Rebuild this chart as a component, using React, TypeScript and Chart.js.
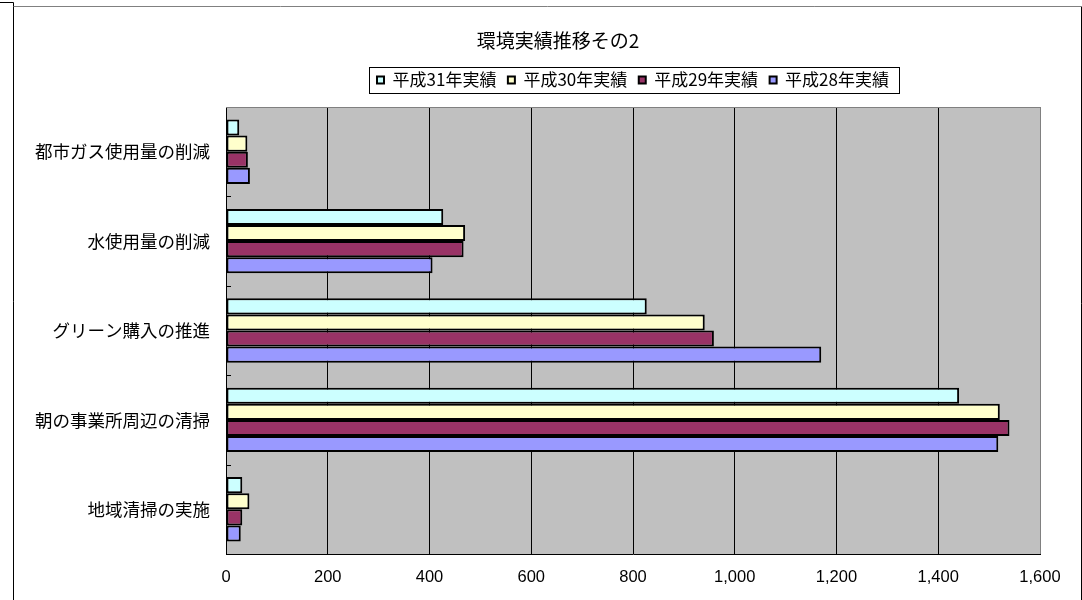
import React, { useEffect, useRef } from 'react';
import { Chart, registerables } from 'chart.js';

Chart.register(...registerables);

const chartTitle = '環境実績推移その2';
const categories = ['都市ガス使用量の削減', '水使用量の削減', 'グリーン購入の推進', '朝の事業所周辺の清掃', '地域清掃の実施'];
const seriesNames = ['平成31年実績', '平成30年実績', '平成29年実績', '平成28年実績'];
const h31 = [26, 427, 827, 1441, 32];
const h30 = [42, 470, 941, 1521, 46];
const h29 = [43, 467, 959, 1540, 32];
const h28 = [47, 406, 1170, 1518, 29];
const seriesColors = ['#CCFFFF', '#FFFFCC', '#993366', '#9999FF'];
const xMin = 0;
const xMax = 1600;
const xStep = 200;

const TITLE_CENTER_X = 558;
const CJK = '"Noto Sans CJK JP", "Noto Sans", sans-serif';
const LAT = '"Liberation Sans", Arial, sans-serif';

const decor = {
  id: 'decor',
  afterLayout(chart: any) {
    const tb = chart.titleBlock;
    if (tb) {
      tb.left = 0;
      tb.right = TITLE_CENTER_X * 2;
      tb.width = tb.right - tb.left;
    }
  },
  beforeDraw(chart: any) {
    const { ctx, chartArea: a, width, height } = chart;
    ctx.save();
    ctx.fillStyle = '#ffffff';
    ctx.fillRect(0, 0, width, height);
    ctx.fillStyle = '#C0C0C0';
    ctx.fillRect(a.left, a.top, a.right - a.left, a.bottom - a.top);
    ctx.lineWidth = 1;
    ctx.strokeStyle = '#000000';
    ctx.beginPath();
    ctx.moveTo(0, 2.5);
    ctx.lineTo(13.5, 2.5);
    ctx.lineTo(13.5, height);
    ctx.stroke();
    ctx.beginPath();
    ctx.moveTo(width - 0.5, 6.5);
    ctx.lineTo(width - 0.5, height);
    ctx.stroke();
    ctx.strokeStyle = '#808080';
    ctx.beginPath();
    ctx.moveTo(13.5, 6.5);
    ctx.lineTo(width - 1, 6.5);
    ctx.stroke();
    ctx.restore();
  },
  afterDraw(chart: any) {
    const { ctx, chartArea: a } = chart;
    ctx.save();
    ctx.strokeStyle = '#808080';
    ctx.lineWidth = 1;
    ctx.beginPath();
    ctx.moveTo(a.left, Math.round(a.top) + 0.5);
    ctx.lineTo(a.right, Math.round(a.top) + 0.5);
    ctx.stroke();
    const ys = chart.scales.y;
    ctx.strokeStyle = '#000000';
    for (let i = 1; i < categories.length; i++) {
      const y = Math.round((ys.getPixelForTick(i - 1) + ys.getPixelForTick(i)) / 2) + 0.5;
      ctx.beginPath();
      ctx.moveTo(a.left, y);
      ctx.lineTo(a.left + 5, y);
      ctx.stroke();
    }
    const lg = chart.legend;
    if (lg && lg.legendHitBoxes && lg.legendHitBoxes.length) {
      const hb = lg.legendHitBoxes;
      let l = Infinity, r = -Infinity, t = Infinity, b = -Infinity;
      hb.forEach((h: any) => {
        l = Math.min(l, h.left);
        r = Math.max(r, h.left + h.width);
        t = Math.min(t, h.top);
        b = Math.max(b, h.top + h.height);
      });
      const cy = (t + b) / 2;
      ctx.strokeStyle = '#000000';
      ctx.lineWidth = 1;
      ctx.strokeRect(Math.round(l - 8) + 0.5, Math.round(cy - 13) + 0.5, Math.round(r - l + 18), 26);
    }
    ctx.restore();
  },
};

export default function App() {
  const ref = useRef<HTMLCanvasElement | null>(null);

  useEffect(() => {
    if (!ref.current) return;
    const datasets = [h31, h30, h29, h28].map((data, i) => ({
      label: seriesNames[i],
      data,
      backgroundColor: seriesColors[i],
      borderColor: '#000000',
      borderWidth: 2,
      borderSkipped: false,
      categoryPercentage: 0.72,
      barPercentage: 1.0,
    }));
    const chart = new Chart(ref.current, {
      type: 'bar',
      data: { labels: categories, datasets },
      plugins: [decor],
      options: {
        indexAxis: 'y',
        animation: false,
        responsive: false,
        maintainAspectRatio: false,
        layout: { padding: { left: 0, right: 42, top: 0, bottom: 0 } },
        plugins: {
          title: {
            display: true,
            text: chartTitle,
            color: '#000000',
            font: { family: CJK, size: 19, weight: 'normal' },
            padding: { top: 29.6, bottom: 7.6 },
          },
          subtitle: {
            display: true,
            text: ' ',
            weight: 500,
            font: { size: 1 },
            padding: { top: 0, bottom: 7.3 },
          },
          legend: {
            display: true,
            position: 'top',
            fullSize: false,
            labels: {
              color: '#000000',
              font: { family: CJK, size: 17 },
              boxWidth: 7,
              boxHeight: 7,
              padding: 11.5,
            },
          },
          tooltip: { enabled: false },
        },
        scales: {
          x: {
            type: 'linear',
            min: xMin,
            max: xMax,
            ticks: {
              stepSize: xStep,
              color: '#000000',
              font: { family: LAT, size: 16.5 },
              padding: 14,
            },
            grid: {
              color: (c: any) => (c.tick && c.tick.value === xMax ? '#808080' : '#000000'),
              lineWidth: 1,
              drawTicks: false,
            },
            border: { display: true, color: '#000000', width: 1 },
            afterFit: (s: any) => { s.height = 46; },
          },
          y: {
            type: 'category',
            ticks: {
              color: '#000000',
              font: { family: CJK, size: 17.5 },
              padding: 16,
            },
            grid: { display: false, drawTicks: false },
            border: { display: true, color: '#000000', width: 1 },
            afterFit: (s: any) => { s.width = 226; },
          },
        },
      } as any,
    });
    return () => chart.destroy();
  }, []);

  return (
    <div style={{ position: 'absolute', left: 0, top: 0, width: 1082, height: 600, background: '#fff' }}>
      <canvas ref={ref} width={1082} height={600} style={{ display: 'block', width: 1082, height: 600 }} />
    </div>
  );
}
